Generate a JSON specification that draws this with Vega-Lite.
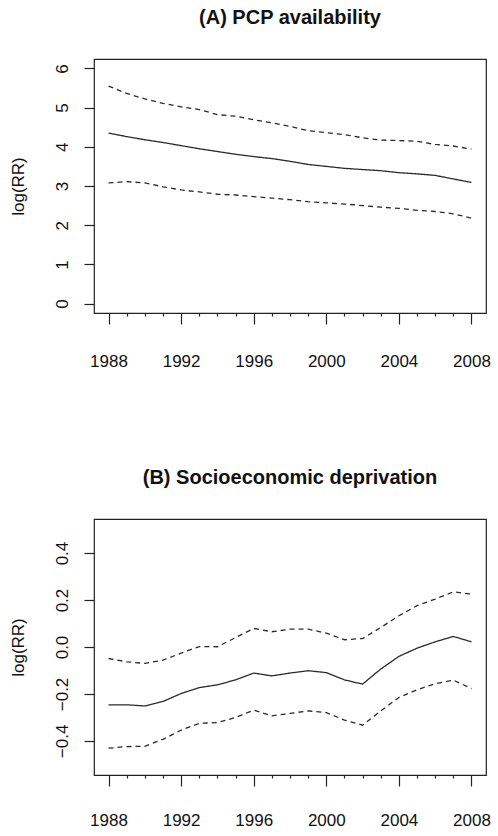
{
  "$schema": "https://vega.github.io/schema/vega-lite/v6.json",
  "background": "white",
  "padding": {"left": 8, "top": 6, "right": 5, "bottom": 5},
  "spacing": 96,
  "datasets": {
    "pcp": [
      {"year": 1988, "est": 4.35, "lo": 3.08, "hi": 5.55},
      {"year": 1989, "est": 4.26, "lo": 3.11, "hi": 5.36},
      {"year": 1990, "est": 4.18, "lo": 3.08, "hi": 5.22},
      {"year": 1991, "est": 4.11, "lo": 2.98, "hi": 5.11},
      {"year": 1992, "est": 4.03, "lo": 2.90, "hi": 5.02},
      {"year": 1993, "est": 3.95, "lo": 2.85, "hi": 4.95},
      {"year": 1994, "est": 3.88, "lo": 2.79, "hi": 4.82},
      {"year": 1995, "est": 3.81, "lo": 2.77, "hi": 4.78},
      {"year": 1996, "est": 3.75, "lo": 2.73, "hi": 4.69},
      {"year": 1997, "est": 3.70, "lo": 2.69, "hi": 4.61},
      {"year": 1998, "est": 3.63, "lo": 2.65, "hi": 4.52},
      {"year": 1999, "est": 3.55, "lo": 2.60, "hi": 4.41},
      {"year": 2000, "est": 3.50, "lo": 2.57, "hi": 4.36},
      {"year": 2001, "est": 3.45, "lo": 2.54, "hi": 4.31},
      {"year": 2002, "est": 3.42, "lo": 2.50, "hi": 4.23},
      {"year": 2003, "est": 3.39, "lo": 2.46, "hi": 4.17},
      {"year": 2004, "est": 3.34, "lo": 2.43, "hi": 4.16},
      {"year": 2005, "est": 3.31, "lo": 2.38, "hi": 4.14},
      {"year": 2006, "est": 3.27, "lo": 2.35, "hi": 4.06},
      {"year": 2007, "est": 3.18, "lo": 2.29, "hi": 4.02},
      {"year": 2008, "est": 3.09, "lo": 2.18, "hi": 3.94}
    ],
    "dep": [
      {"year": 1988, "est": -0.246, "lo": -0.431, "hi": -0.049},
      {"year": 1989, "est": -0.246, "lo": -0.424, "hi": -0.063},
      {"year": 1990, "est": -0.251, "lo": -0.423, "hi": -0.070},
      {"year": 1991, "est": -0.232, "lo": -0.393, "hi": -0.056},
      {"year": 1992, "est": -0.198, "lo": -0.354, "hi": -0.026},
      {"year": 1993, "est": -0.173, "lo": -0.325, "hi": 0.002},
      {"year": 1994, "est": -0.161, "lo": -0.322, "hi": 0.001},
      {"year": 1995, "est": -0.140, "lo": -0.300, "hi": 0.040},
      {"year": 1996, "est": -0.111, "lo": -0.269, "hi": 0.079},
      {"year": 1997, "est": -0.123, "lo": -0.293, "hi": 0.065},
      {"year": 1998, "est": -0.111, "lo": -0.283, "hi": 0.076},
      {"year": 1999, "est": -0.101, "lo": -0.272, "hi": 0.076},
      {"year": 2000, "est": -0.109, "lo": -0.279, "hi": 0.059},
      {"year": 2001, "est": -0.140, "lo": -0.311, "hi": 0.031},
      {"year": 2002, "est": -0.158, "lo": -0.333, "hi": 0.036},
      {"year": 2003, "est": -0.094, "lo": -0.272, "hi": 0.083},
      {"year": 2004, "est": -0.040, "lo": -0.215, "hi": 0.133},
      {"year": 2005, "est": -0.005, "lo": -0.182, "hi": 0.176},
      {"year": 2006, "est": 0.022, "lo": -0.156, "hi": 0.204},
      {"year": 2007, "est": 0.045, "lo": -0.141, "hi": 0.235},
      {"year": 2008, "est": 0.022, "lo": -0.177, "hi": 0.225}
    ]
  },
  "vconcat": [
    {
      "width": 392,
      "height": 254,
      "title": {"text": "(A) PCP availability"},
      "data": {"name": "pcp"},
      "transform": [{"fold": ["est", "lo", "hi"], "as": ["band", "value"]}],
      "mark": {"type": "line", "strokeWidth": 1.3, "color": "#2a2a2a"},
      "encoding": {
        "x": {
          "field": "year", "type": "quantitative",
          "scale": {"domain": [1987.2, 2008.8], "nice": false, "zero": false},
          "axis": {
            "title": null, "format": "d",
            "values": [1988,1989,1990,1991,1992,1993,1994,1995,1996,1997,1998,1999,2000,2001,2002,2003,2004,2005,2006,2007,2008],
            "labelExpr": "datum.value % 4 == 0 ? datum.label : ''",
            "tickSize": {"condition": {"test": "datum.value % 4 == 0", "value": 11}, "value": 3},
            "labelPadding": 29
          }
        },
        "y": {
          "field": "value", "type": "quantitative",
          "scale": {"domain": [-0.24, 6.24], "nice": false, "zero": false},
          "axis": {"title": "log(RR)", "values": [0, 1, 2, 3, 4, 5, 6], "format": "d"}
        },
        "strokeDash": {
          "field": "band", "type": "nominal",
          "scale": {"domain": ["est", "lo", "hi"], "range": [[1, 0], [5, 4], [5, 4]]},
          "legend": null
        },
        "detail": {"field": "band"}
      }
    },
    {
      "width": 392,
      "height": 256,
      "title": {"text": "(B) Socioeconomic deprivation"},
      "data": {"name": "dep"},
      "transform": [{"fold": ["est", "lo", "hi"], "as": ["band", "value"]}],
      "mark": {"type": "line", "strokeWidth": 1.3, "color": "#2a2a2a"},
      "encoding": {
        "x": {
          "field": "year", "type": "quantitative",
          "scale": {"domain": [1987.2, 2008.8], "nice": false, "zero": false},
          "axis": {
            "title": null, "format": "d",
            "values": [1988,1989,1990,1991,1992,1993,1994,1995,1996,1997,1998,1999,2000,2001,2002,2003,2004,2005,2006,2007,2008],
            "labelExpr": "datum.value % 4 == 0 ? datum.label : ''",
            "tickSize": {"condition": {"test": "datum.value % 4 == 0", "value": 11}, "value": 3},
            "labelPadding": 26
          }
        },
        "y": {
          "field": "value", "type": "quantitative",
          "scale": {"domain": [-0.545, 0.545], "nice": false, "zero": false},
          "axis": {"title": "log(RR)", "values": [-0.4, -0.2, 0, 0.2, 0.4], "format": ".1f"}
        },
        "strokeDash": {
          "field": "band", "type": "nominal",
          "scale": {"domain": ["est", "lo", "hi"], "range": [[1, 0], [5, 4], [5, 4]]},
          "legend": null
        },
        "detail": {"field": "band"}
      }
    }
  ],
  "config": {
    "font": "Liberation Sans",
    "view": {"stroke": "#222222", "strokeWidth": 1.2},
    "title": {
      "font": "Liberation Sans", "fontSize": 20, "fontWeight": "bold", "color": "#111111",
      "anchor": "middle", "frame": "group", "baseline": "alphabetic", "offset": 31.5
    },
    "axis": {
      "domain": false, "grid": false,
      "tickColor": "#222222", "tickWidth": 1.2,
      "labelFont": "Liberation Sans", "labelFontSize": 17, "labelColor": "#111111",
      "titleFont": "Liberation Sans", "titleFontSize": 17, "titleFontWeight": "normal", "titleColor": "#111111"
    },
    "axisY": {
      "tickSize": 10, "labelAngle": 270, "labelAlign": "center", "labelBaseline": "bottom",
      "labelPadding": 13, "titleAngle": 270, "titleX": -76, "titleAlign": "center", "titleBaseline": "middle"
    },
    "axisX": {"labelBaseline": "top", "labelFlush": false, "labelOverlap": false}
  }
}
